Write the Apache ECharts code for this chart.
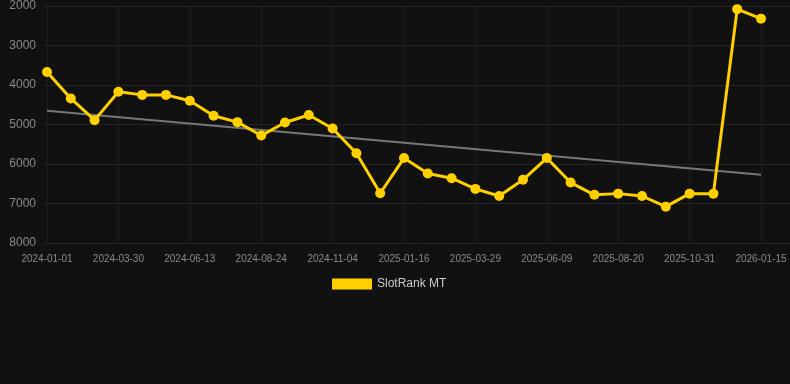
<!DOCTYPE html>
<html>
<head>
<meta charset="utf-8">
<script src="https://cdn.jsdelivr.net/npm/echarts@6/dist/echarts.min.js"></script>
<style>
html,body{margin:0;padding:0;background:#111111;}
#chart{width:790px;height:384px;}
</style>
</head>
<body>
<div id="chart"></div>
<script>
var dates = ['2024-01-01','2024-01-30','2024-02-28','2024-03-30','2024-04-24','2024-05-19','2024-06-13','2024-07-07',
 '2024-07-31','2024-08-24','2024-09-17','2024-10-11','2024-11-04','2024-11-28','2024-12-22','2025-01-16',
 '2025-02-09','2025-03-05','2025-03-29','2025-04-22','2025-05-16','2025-06-09','2025-07-03','2025-07-27',
 '2025-08-20','2025-09-13','2025-10-07','2025-10-31','2025-11-24','2025-12-20','2026-01-15'];
var rank = [3670,4340,4890,4170,4250,4250,4400,4780,4940,5280,4950,4760,5100,5730,6740,5850,
 6240,6360,6630,6810,6400,5850,6470,6780,6750,6810,7080,6750,6750,2080,2320];
// trend line, only the two ends
var trend = [4650,null,null,null,null,null,null,null,null,null,null,null,null,null,null,null,
 null,null,null,null,null,null,null,null,null,null,null,null,null,null,6270];

var myChart = echarts.init(document.getElementById('chart'));
var option = {
    backgroundColor: '#111111',
    animation: false,
    grid: [
        {left: 47, right: 29, top: 6, bottom: 141},
        // wider grid only for the horizontal split lines
        {left: 43, right: 0, top: 6, bottom: 141}
    ],
    legend: {
        top: 273,
        left: 327,
        itemWidth: 40,
        itemHeight: 11,
        itemGap: 10,
        textStyle: {color: '#cccccc', fontSize: 12, fontFamily: 'Liberation Sans'},
        data: [{name: 'SlotRank MT', icon: 'rect'}]
    },
    xAxis: [
        {
            type: 'category',
            data: dates,
            boundaryGap: false,
            axisLine: {show: false},
            axisTick: {show: false},
            axisLabel: {interval: 2, color: '#8a8a8a', fontSize: 10, margin: 11, fontFamily: 'Liberation Sans'},
            splitLine: {show: true, interval: 2, lineStyle: {color: '#1e1e1e'}}
        },
        {gridIndex: 1, type: 'value', show: false}
    ],
    yAxis: [
        {
            type: 'value',
            inverse: true,
            min: 2000,
            max: 8000,
            interval: 1000,
            axisLine: {show: false},
            axisTick: {show: false},
            axisLabel: {color: '#8a8a8a', fontSize: 12, margin: 11, fontFamily: 'Liberation Sans',
                formatter: function (v) { return String(v); }},
            splitLine: {show: false}
        },
        {
            gridIndex: 1,
            type: 'value',
            inverse: true,
            min: 2000,
            max: 8000,
            interval: 1000,
            axisLine: {show: false},
            axisTick: {show: false},
            axisLabel: {show: false},
            splitLine: {lineStyle: {color: '#242424'}}
        }
    ],
    series: [
        {
            name: 'trend',
            type: 'line',
            data: trend,
            connectNulls: true,
            symbol: 'none',
            lineStyle: {color: '#777777', width: 2},
            silent: true,
            z: 1
        },
        {
            name: 'SlotRank MT',
            type: 'line',
            data: rank,
            symbol: 'circle',
            symbolSize: 10,
            itemStyle: {color: '#FFD000'},
            lineStyle: {color: '#FFD000', width: 3},
            z: 2
        }
    ]
};
myChart.setOption(option);
</script>
</body>
</html>
